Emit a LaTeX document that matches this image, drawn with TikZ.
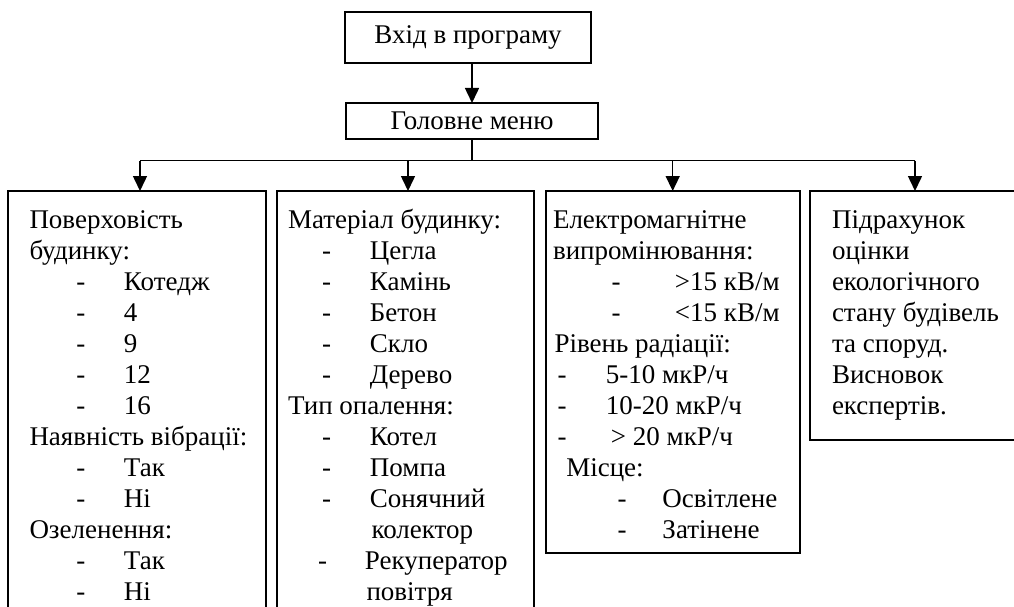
\documentclass[tikz,border=0pt]{standalone}
\usepackage{fontspec}
\setmainfont{Liberation Serif}
\usetikzlibrary{arrows.meta}
\newcommand{\dashitem}[3]{\hbox{\rlap{\kern#1pt -}\kern#2pt #3}}
\newcommand{\lineitem}[1]{\hbox{#1}}
\begin{document}
\begin{tikzpicture}[x=1pt,y=-1pt,
  frame/.style={draw, line width=1.5pt, inner sep=0pt, outer sep=0pt, anchor=north west},
  body/.style={inner sep=0pt, outer sep=0pt, anchor=base west, font=\fontsize{27}{31}\selectfont},
  arr/.style={-{Triangle[width=14pt,length=15pt]}, line width=1.5pt},
  con/.style={line width=1.5pt}]
\useasboundingbox (0,0) rectangle (1014,607);
\clip (0,0) rectangle (1014,607);
% top boxes
\node[frame, minimum width=246pt, minimum height=51pt, font=\fontsize{27}{31}\selectfont] (entry) at (345,12) {Вхід в програму};
\node[frame, minimum width=252pt, minimum height=36pt, font=\fontsize{27}{31}\selectfont] (menu) at (346,103) {Головне меню};
% category boxes
\node[frame, minimum width=258pt, minimum height=460pt] (b1) at (8,191) {};
\node[frame, minimum width=257pt, minimum height=460pt] (b2) at (277,191) {};
\node[frame, minimum width=254pt, minimum height=362pt] (b3) at (546,191) {};
\node[frame, minimum width=250pt, minimum height=249pt] (b4) at (810,191) {};
% connectors
\coordinate (barL) at (140,160.5);
\coordinate (barR) at (915,160.5);
\coordinate (a2) at (408,160.5);
\coordinate (a3) at (672.7,160.5);
\draw[arr] (menu.north |- entry.south) -- (menu.north);
\draw[con] (menu.south) -- (menu.south |- barL);
\draw[con] (barL) -- (barR);
\draw[arr] (barL) -- (barL |- b1.north);
\draw[arr] (a2) -- (a2 |- b2.north);
\draw[arr] (a3) -- (a3 |- b3.north);
\draw[arr] (barR) -- (barR |- b4.north);
% texts
\node[body] (t1) at (29.5,228) {\vtop{%
\lineitem{Поверховість}
\lineitem{будинку:}
\dashitem{47}{94.5}{Котедж}
\dashitem{47}{94.5}{4}
\dashitem{47}{94.5}{9}
\dashitem{47}{94.5}{12}
\dashitem{47}{94.5}{16}
\lineitem{Наявність вібрації:}
\dashitem{47}{94.5}{Так}
\dashitem{47}{94.5}{Ні}
\lineitem{Озеленення:}
\dashitem{47}{94.5}{Так}
\dashitem{47}{94.5}{Ні}}};
\node[body] (t2) at (288,228) {\vtop{%
\lineitem{Матеріал будинку:}
\dashitem{34}{82}{Цегла}
\dashitem{34}{82}{Камінь}
\dashitem{34}{82}{Бетон}
\dashitem{34}{82}{Скло}
\dashitem{34}{82}{Дерево}
\lineitem{Тип опалення:}
\dashitem{34}{82}{Котел}
\dashitem{34}{82}{Помпа}
\dashitem{34}{82}{Сонячний}
\lineitem{\kern83.5pt колектор}
\dashitem{30}{77}{Рекуператор}
\lineitem{\kern78.5pt повітря}}};
\node[body] (t3) at (553,228) {\vtop{%
\lineitem{Електромагнітне}
\lineitem{випромінювання:}
\dashitem{58.5}{122}{>15 кВ/м}
\dashitem{58.5}{122}{<15 кВ/м}
\lineitem{\kern1.5pt Рівень радіації:}
\dashitem{4.5}{53}{5-10 мкР/ч}
\dashitem{4.5}{53}{10-20 мкР/ч}
\dashitem{4.5}{58}{> 20 мкР/ч}
\lineitem{\kern13.3pt Місце:}
\dashitem{64.5}{109.5}{Освітлене}
\dashitem{64.5}{109.5}{Затінене}}};
\node[body] (t4) at (832,228) {\vtop{%
\lineitem{Підрахунок}
\lineitem{оцінки}
\lineitem{екологічного}
\lineitem{стану будівель}
\lineitem{та споруд.}
\lineitem{Висновок}
\lineitem{експертів.}}};
\end{tikzpicture}
\end{document}
